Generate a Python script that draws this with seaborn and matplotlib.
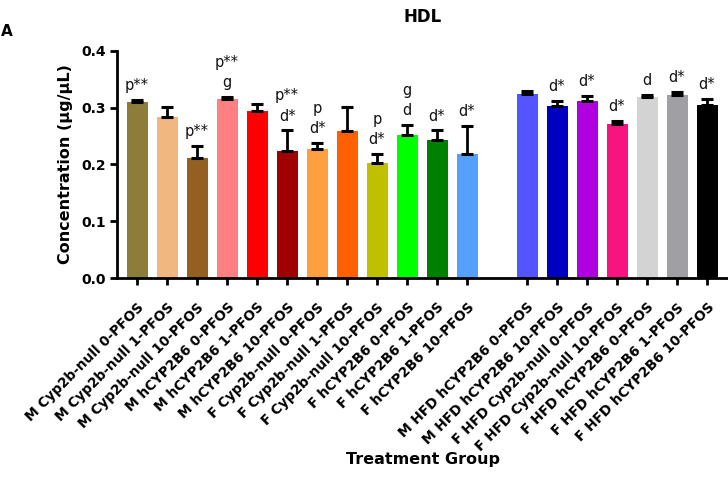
import matplotlib
matplotlib.use("Agg")
import matplotlib.pyplot as plt
import seaborn as sns
import numpy as np
import pandas as pd

# ---- data ----
chow_groups = [
    "M Cyp2b-null 0-PFOS", "M Cyp2b-null 1-PFOS", "M Cyp2b-null 10-PFOS",
    "M hCYP2B6 0-PFOS", "M hCYP2B6 1-PFOS", "M hCYP2B6 10-PFOS",
    "F Cyp2b-null 0-PFOS", "F Cyp2b-null 1-PFOS", "F Cyp2b-null 10-PFOS",
    "F hCYP2B6 0-PFOS", "F hCYP2B6 1-PFOS", "F hCYP2B6 10-PFOS",
]
chow_values = [0.310, 0.284, 0.212, 0.315, 0.294, 0.224, 0.227, 0.259, 0.203, 0.252, 0.243, 0.219]
chow_errors = [0.004, 0.017, 0.021, 0.004, 0.013, 0.036, 0.011, 0.042, 0.015, 0.017, 0.017, 0.049]
chow_labels = ["p**", "", "p**", "p**\ng", "", "p**\nd*", "p\nd*", "", "p\nd*", "g\nd", "d*", "d*"]
chow_colors = ["#8C7D3A", "#F0B880", "#946020", "#FF8080", "#FF0000", "#A00000",
               "#FFA040", "#FF6000", "#C0C000", "#00FF00", "#008000", "#55A0FF"]

hfd_groups = [
    "M HFD hCYP2B6 0-PFOS", "M HFD hCYP2B6 10-PFOS", "F HFD Cyp2b-null 0-PFOS",
    "F HFD Cyp2b-null 10-PFOS", "F HFD hCYP2B6 0-PFOS", "F HFD hCYP2B6 1-PFOS",
    "F HFD hCYP2B6 10-PFOS",
]
hfd_values = [0.324, 0.303, 0.312, 0.271, 0.319, 0.322, 0.305]
hfd_errors = [0.005, 0.009, 0.009, 0.005, 0.0035, 0.005, 0.011]
hfd_labels = ["", "d*", "d*", "d*", "d", "d*", "d*"]
hfd_colors = ["#5555FF", "#0000C0", "#B000E0", "#F71480", "#D3D3D3", "#A0A0A4", "#000000"]

yticks = [0.0, 0.1, 0.2, 0.3, 0.4]

# ---- build table ----
groups = chow_groups + hfd_groups
values = chow_values + hfd_values
errors = chow_errors + hfd_errors
labels = chow_labels + hfd_labels
colors = chow_colors + hfd_colors
pos = list(range(len(chow_groups))) + [len(chow_groups) + 1 + i for i in range(len(hfd_groups))]
df = pd.DataFrame({"group": groups, "value": values, "err": errors, "pos": pos})

sns.set_theme(style="ticks")
plt.rcParams["font.family"] = ["DejaVu Sans"]
plt.rcParams["text.color"] = "black"
plt.rcParams["xtick.color"] = "black"
plt.rcParams["ytick.color"] = "black"
plt.rcParams["axes.labelcolor"] = "black"

fig = plt.figure(figsize=(7.28, 4.90), dpi=100)
ax = fig.add_axes([117 / 728, 1 - 278 / 490, (728 - 117) / 728, (278 - 51) / 490])

sns.barplot(data=df, x="pos", y="value", hue="group", palette=dict(zip(groups, colors)),
            native_scale=True, dodge=False, width=0.7, legend=False, ax=ax,
            linewidth=0, saturation=1, errorbar=None)

ax.errorbar(df["pos"], df["value"], yerr=[np.zeros(len(df)), df["err"]], fmt="none",
            ecolor="black", elinewidth=2, capsize=4, capthick=2.2, zorder=3)

for x, v, e, lab in zip(df["pos"], df["value"], df["err"], labels):
    if lab:
        ax.annotate(lab, xy=(x, v + e), xytext=(0, 5), textcoords="offset points",
                    ha="center", va="bottom", fontsize=10.5, linespacing=1.45,
                    color="#111111")

ax.set_xlim(-0.67, pos[-1] + 0.7)
ax.set_ylim(0, 0.4)
ax.set_yticks(yticks)
ax.set_yticklabels([f"{t:.1f}" for t in yticks], fontweight="bold", fontsize=10)
ax.set_xticks(pos)
ax.set_xticklabels(groups, rotation=45, ha="right", va="top", rotation_mode="anchor",
                   fontweight="bold", fontsize=9.8)
ax.tick_params(axis="both", width=2, length=5, color="black", pad=3)
ax.tick_params(axis="x", pad=11)
for s in ["left", "bottom"]:
    ax.spines[s].set_linewidth(2)
    ax.spines[s].set_color("black")
sns.despine(ax=ax)

ax.set_xlabel("Treatment Group", fontweight="bold", fontsize=11.5)
ax.xaxis.set_label_coords((423 - 117) / (728 - 117), -(452 - 278) / (278 - 51))
ax.set_ylabel("Concentration (µg/µL)", fontweight="bold", fontsize=11.5)
ax.yaxis.set_label_coords(-(117 - 73) / (728 - 117), 0.5)

fig.text(423 / 728, 1 - 17 / 490, "HDL", ha="center", va="center", fontweight="bold", fontsize=12)
fig.text(0.001, 1 - 31 / 490, "A", ha="left", va="center", fontweight="bold", fontsize=11)

fig.savefig("out.png", dpi=100)
